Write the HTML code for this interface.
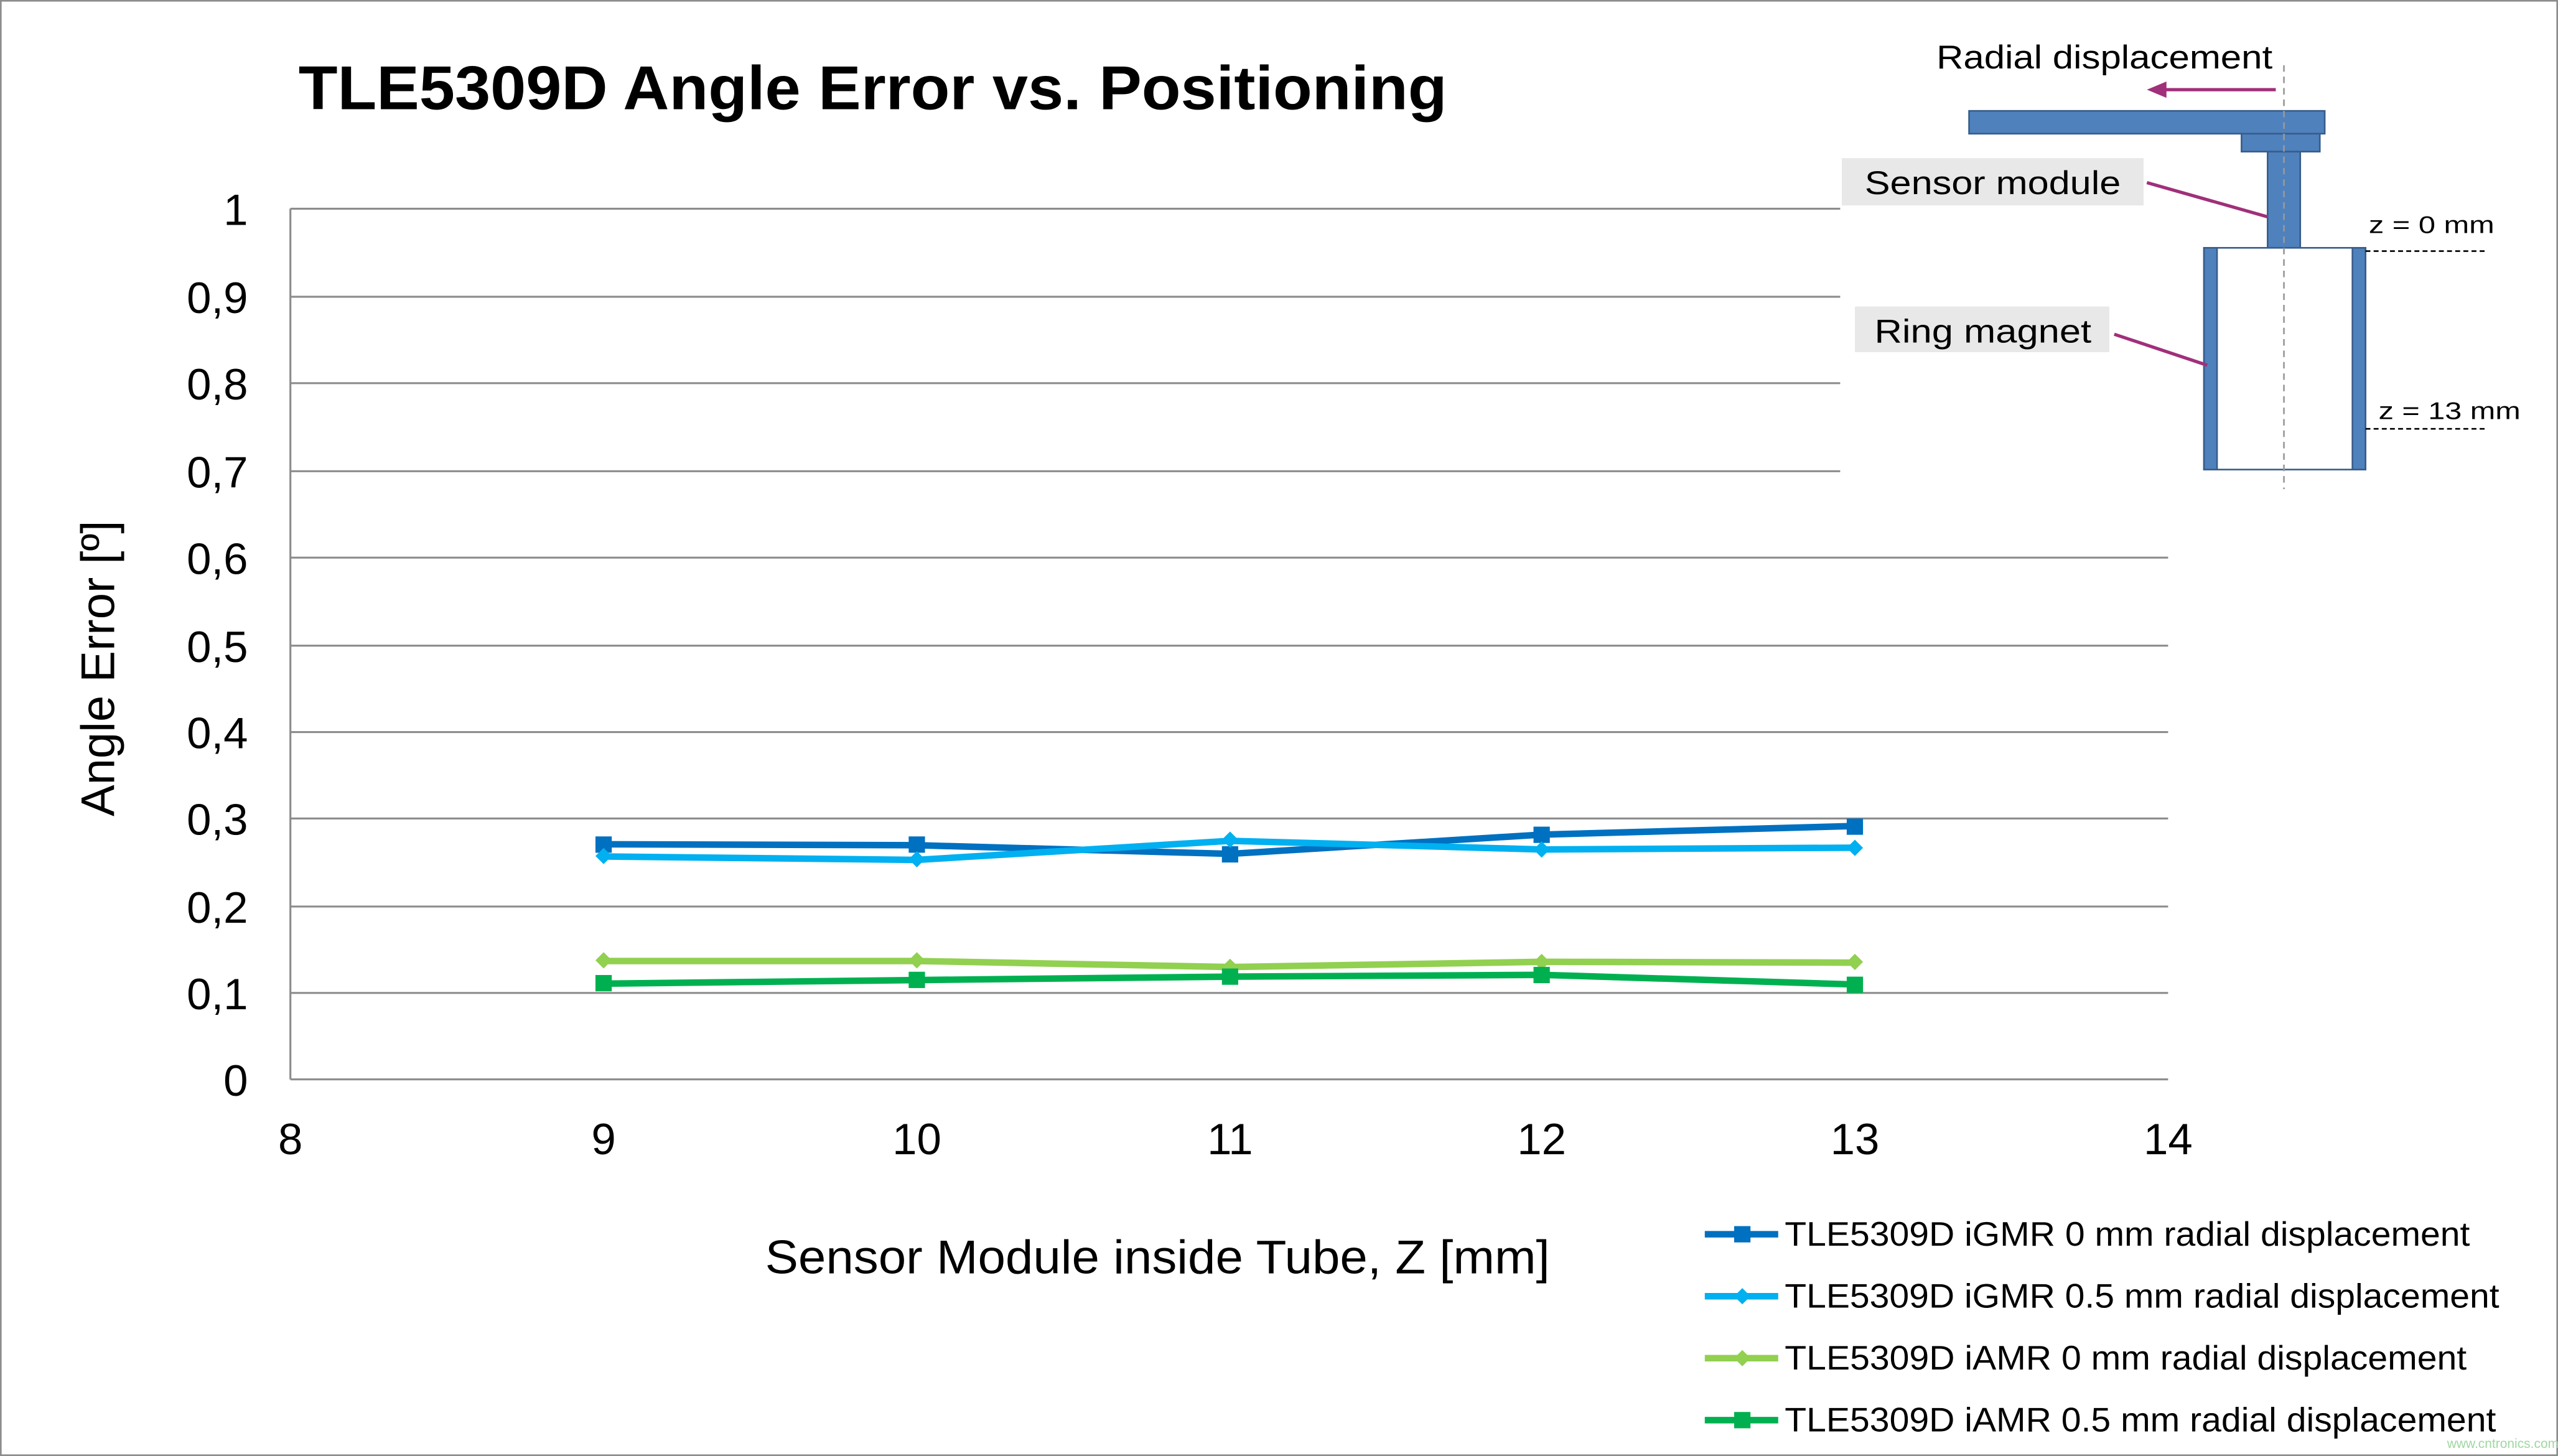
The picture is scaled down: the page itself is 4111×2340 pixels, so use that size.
<!DOCTYPE html>
<html><head><meta charset="utf-8"><style>html,body{margin:0;padding:0;background:#fff}svg{display:block}</style></head>
<body>
<svg width="4111" height="2340" viewBox="0 0 1568 893" preserveAspectRatio="none" xmlns="http://www.w3.org/2000/svg" font-family="Liberation Sans, sans-serif">
<rect x="0.5" y="0.5" width="1567" height="892" fill="#fff" stroke="#8c8c8c" stroke-width="1"/>
<text x="183" y="67" font-size="38" font-weight="bold" fill="#000" textLength="704" lengthAdjust="spacingAndGlyphs">TLE5309D Angle Error vs. Positioning</text>
<g stroke="#8c8c8c" stroke-width="1.2">
<line x1="178" y1="128" x2="1128" y2="128"/>
<line x1="178" y1="182" x2="1128" y2="182"/>
<line x1="178" y1="235" x2="1128" y2="235"/>
<line x1="178" y1="289" x2="1128" y2="289"/>
<line x1="178" y1="342" x2="1329" y2="342"/>
<line x1="178" y1="396" x2="1329" y2="396"/>
<line x1="178" y1="449" x2="1329" y2="449"/>
<line x1="178" y1="502" x2="1329" y2="502"/>
<line x1="178" y1="556" x2="1329" y2="556"/>
<line x1="178" y1="609" x2="1329" y2="609"/>
<line x1="178" y1="662" x2="1329" y2="662"/>
<line x1="178" y1="128" x2="178" y2="662"/>
</g>
<g font-size="27" fill="#000" text-anchor="end">
<text x="152" y="138">1</text><text x="152" y="192">0,9</text><text x="152" y="245">0,8</text><text x="152" y="299">0,7</text><text x="152" y="352">0,6</text><text x="152" y="406">0,5</text><text x="152" y="459">0,4</text><text x="152" y="512">0,3</text><text x="152" y="566">0,2</text><text x="152" y="619">0,1</text><text x="152" y="672">0</text>
</g>
<g font-size="27" fill="#000" text-anchor="middle">
<text x="178" y="708">8</text><text x="370" y="708">9</text><text x="562" y="708">10</text><text x="754" y="708">11</text><text x="945" y="708">12</text><text x="1137" y="708">13</text><text x="1329" y="708">14</text>
</g>
<text x="469" y="781" font-size="29" textLength="481" lengthAdjust="spacingAndGlyphs">Sensor Module inside Tube, Z [mm]</text>
<text transform="translate(70 410) rotate(-90)" font-size="29" text-anchor="middle">Angle Error [º]</text>
<g fill="none" stroke-width="4">
<polyline stroke="#0070c0" points="370,517.8 562,518.4 754,523.7 945,511.9 1137,506.6"/>
<polyline stroke="#00b0f0" points="370,525.3 562,527.4 754,515.7 945,521 1137,519.9"/>
<polyline stroke="#92d050" points="370,589.4 562,589.4 754,593.1 945,589.9 1137,590.4"/>
<polyline stroke="#00b050" points="370,603.3 562,601.1 754,599 945,597.9 1137,603.8"/>
</g>
<g fill="#0070c0"><rect x="365" y="513" width="10" height="10"/><rect x="557" y="513" width="10" height="10"/><rect x="749" y="519" width="10" height="10"/><rect x="940" y="507" width="10" height="10"/><rect x="1132" y="502" width="10" height="10"/></g>
<g fill="#00b0f0"><path d="M370 520l5 5-5 5-5-5z M562 522l5 5-5 5-5-5z M754 510l5 5-5 5-5-5z M945 516l5 5-5 5-5-5z M1137 515l5 5-5 5-5-5z"/></g>
<g fill="#92d050"><path d="M370 584l5 5-5 5-5-5z M562 584l5 5-5 5-5-5z M754 588l5 5-5 5-5-5z M945 585l5 5-5 5-5-5z M1137 585l5 5-5 5-5-5z"/></g>
<g fill="#00b050"><rect x="365" y="598" width="10" height="10"/><rect x="557" y="596" width="10" height="10"/><rect x="749" y="594" width="10" height="10"/><rect x="940" y="593" width="10" height="10"/><rect x="1132" y="599" width="10" height="10"/></g>
<g font-size="21" fill="#000">
<line x1="1045" y1="757" x2="1090" y2="757" stroke="#0070c0" stroke-width="4"/><rect x="1063" y="752" width="10" height="10" fill="#0070c0"/>
<text x="1094" y="764" textLength="420" lengthAdjust="spacingAndGlyphs">TLE5309D iGMR 0 mm radial displacement</text>
<line x1="1045" y1="795" x2="1090" y2="795" stroke="#00b0f0" stroke-width="4"/><path d="M1068 790l5 5-5 5-5-5z" fill="#00b0f0"/>
<text x="1094" y="802" textLength="438" lengthAdjust="spacingAndGlyphs">TLE5309D iGMR 0.5 mm radial displacement</text>
<line x1="1045" y1="833" x2="1090" y2="833" stroke="#92d050" stroke-width="4"/><path d="M1068 828l5 5-5 5-5-5z" fill="#92d050"/>
<text x="1094" y="840" textLength="418" lengthAdjust="spacingAndGlyphs">TLE5309D iAMR 0 mm radial displacement</text>
<line x1="1045" y1="871" x2="1090" y2="871" stroke="#00b050" stroke-width="4"/><rect x="1063" y="866" width="10" height="10" fill="#00b050"/>
<text x="1094" y="878" textLength="436" lengthAdjust="spacingAndGlyphs">TLE5309D iAMR 0.5 mm radial displacement</text>
</g>
<g>
<text x="1187" y="42" font-size="20" textLength="206" lengthAdjust="spacingAndGlyphs">Radial displacement</text>
<line x1="1395" y1="55" x2="1325" y2="55" stroke="#a0307a" stroke-width="2"/><path d="M1316 55l12-5v10z" fill="#a0307a"/>
<rect x="1207" y="68" width="218" height="14" fill="#4f81bd" stroke="#385d8a"/>
<rect x="1374" y="82" width="48" height="11" fill="#4f81bd" stroke="#385d8a"/>
<rect x="1390" y="93" width="20" height="59" fill="#4f81bd" stroke="#385d8a"/>
<rect x="1351" y="152" width="99" height="136" fill="#fff" stroke="#385d8a"/>
<rect x="1351" y="152" width="8" height="136" fill="#4f81bd" stroke="#385d8a"/>
<rect x="1442" y="152" width="8" height="136" fill="#4f81bd" stroke="#385d8a"/>
<line x1="1400" y1="40" x2="1400" y2="300" stroke="#999" stroke-dasharray="4,3"/>
<line x1="1450" y1="154" x2="1525" y2="154" stroke="#000" stroke-dasharray="3,2"/>
<line x1="1450" y1="263" x2="1525" y2="263" stroke="#000" stroke-dasharray="3,2"/>
<text x="1452" y="143" font-size="15" textLength="77" lengthAdjust="spacingAndGlyphs">z = 0 mm</text>
<text x="1458" y="257" font-size="15" textLength="87" lengthAdjust="spacingAndGlyphs">z = 13 mm</text>
<rect x="1129" y="97" width="185" height="29" fill="#e8e8e8"/>
<text x="1143" y="119" font-size="20" textLength="157" lengthAdjust="spacingAndGlyphs">Sensor module</text>
<line x1="1316" y1="112" x2="1390" y2="133" stroke="#a0307a" stroke-width="2"/>
<rect x="1137" y="188" width="156" height="28" fill="#e8e8e8"/>
<text x="1149" y="210" font-size="20" textLength="133" lengthAdjust="spacingAndGlyphs">Ring magnet</text>
<line x1="1296" y1="205" x2="1353" y2="224" stroke="#a0307a" stroke-width="2"/>
</g>
<text x="1500" y="888" font-size="8" fill="#9fd7a0">www.cntronics.com</text>
</svg>
</body></html>
